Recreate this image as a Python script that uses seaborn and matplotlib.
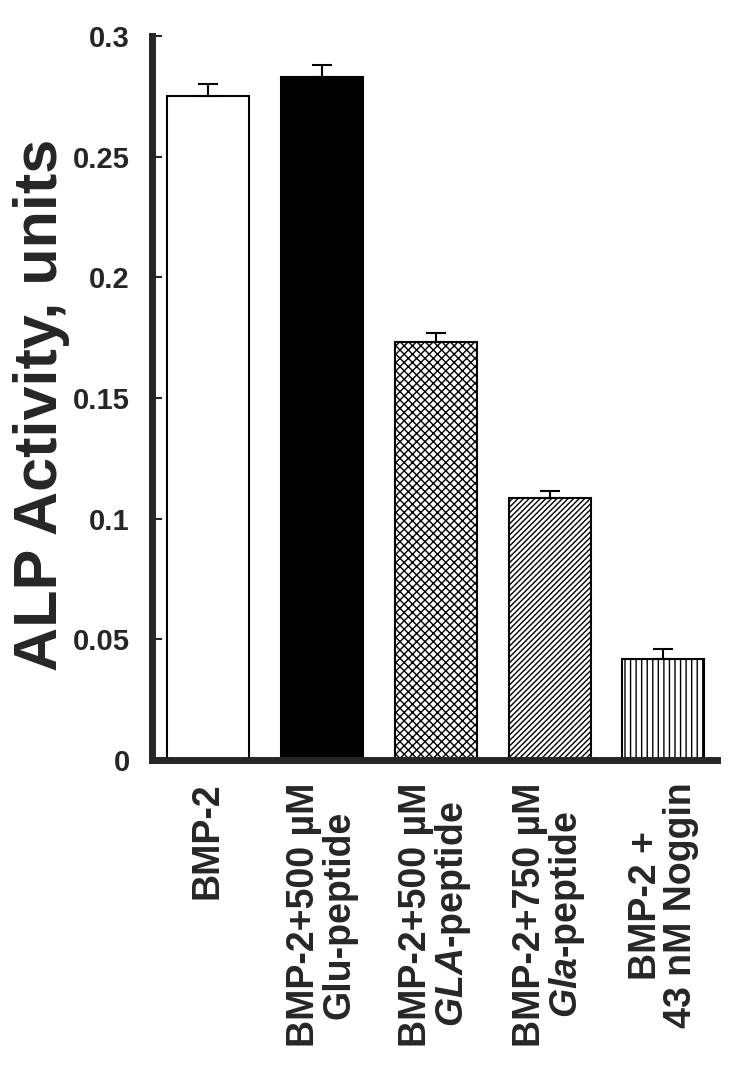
import matplotlib
matplotlib.use("Agg")
import matplotlib.pyplot as plt
import seaborn as sns
import pandas as pd

# values
labels = ["BMP-2",
          "BMP-2+500 µM\nGlu-peptide",
          "BMP-2+500 µM\n$\\mathbfit{GLA}$-peptide",
          "BMP-2+750 µM\n$\\mathbfit{Gla}$-peptide",
          "BMP-2 +\n43 nM Noggin"]
activity = [0.275, 0.283, 0.173, 0.1085, 0.042]
sem = [0.005, 0.005, 0.004, 0.003, 0.004]
yticks = [0, 0.05, 0.1, 0.15, 0.2, 0.25, 0.3]
ytick_labels = ["0", "0.05", "0.1", "0.15", "0.2", "0.25", "0.3"]

sns.set_style("white")
plt.rcParams["font.family"] = ["Liberation Sans", "DejaVu Sans"]
plt.rcParams["font.weight"] = "bold"
plt.rcParams["mathtext.fontset"] = "custom"
plt.rcParams["mathtext.bfit"] = "Liberation Sans:italic:bold"
plt.rcParams["mathtext.bf"] = "Liberation Sans:bold"
plt.rcParams["hatch.linewidth"] = 1.0

df = pd.DataFrame({"cond": labels, "alp": activity})

fig = plt.figure(figsize=(7.5, 10.7), dpi=100)
ax = fig.add_axes([0.2027, 0.2897, 0.956 - 0.2027, 0.9664 - 0.2897])

sns.barplot(data=df, x="cond", y="alp", ax=ax, width=0.72,
            color="white", edgecolor="black", linewidth=1.5, errorbar=None)

fills = ["white", "black", "white", "white", "white"]
hatches = [None, None, "xxxx", "//////", "|||"]
for p, fc, h in zip(ax.patches, fills, hatches):
    p.set_facecolor(fc)
    p.set_edgecolor("black")
    if h:
        p.set_hatch(h)

xs = [p.get_x() + p.get_width() / 2 for p in ax.patches]
ax.errorbar(xs, activity, yerr=[[0] * len(sem), sem], fmt="none",
            ecolor="black", elinewidth=1.5, capsize=7, capthick=1.5, zorder=1)

ax.set_ylim(0, 0.3)
ax.set_xlim(-0.49, 4.47)
ax.set_yticks(yticks)
ax.set_yticklabels(ytick_labels, fontsize=21, fontweight="bold")
ax.tick_params(axis="y", direction="in", length=7, width=1.5, left=True, pad=16)
ax.tick_params(axis="x", length=0, pad=16)
ax.set_xticks(range(len(labels)))
ax.set_xticklabels(labels, rotation=90, fontsize=27, fontweight="bold",
                   ha="center", va="top", multialignment="center",
                   linespacing=0.95)

ax.set_xlabel("")
ax.set_ylabel("ALP Activity, units", fontsize=44, fontweight="bold")
ax.yaxis.set_label_coords(-0.145, 0.49)

sns.despine(ax=ax)
ax.spines["left"].set_linewidth(5)
ax.spines["bottom"].set_linewidth(5)

fig.savefig("out.png", dpi=100)
